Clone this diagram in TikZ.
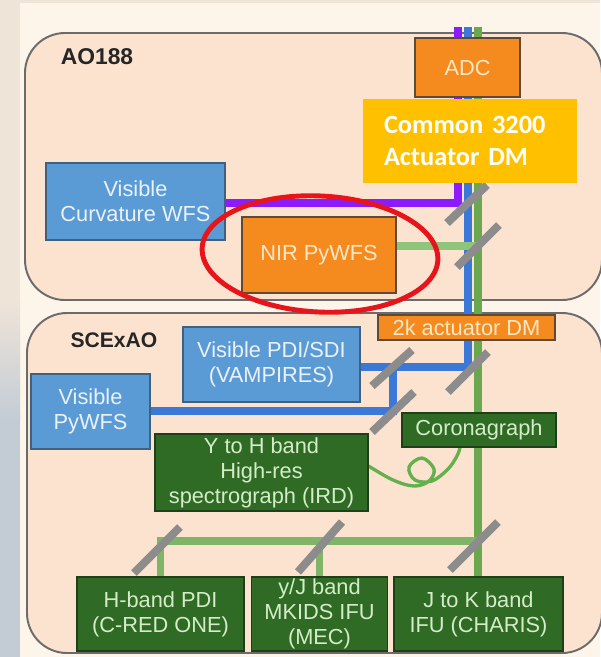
\documentclass[tikz,border=0pt]{standalone}
\usepackage{fontspec}
\setmainfont{Liberation Sans}
\newfontfamily\calibri{Carlito}[WordSpace = 0.6]
\usepackage{xcolor}
\usepackage{tikz}

\definecolor{bgcream}{HTML}{FDF5EA}
\definecolor{stripbeige}{HTML}{EFE4D8}
\definecolor{stripblue}{HTML}{C3CCD5}
\definecolor{panelfill}{HTML}{FCE3CF}
\definecolor{panelline}{HTML}{6B6B6B}
\definecolor{boxblue}{HTML}{5B9BD5}
\definecolor{blueline}{HTML}{40607F}
\definecolor{bluetext}{HTML}{EAF1F8}
\definecolor{boxorange}{HTML}{F58B1F}
\definecolor{orangeline}{HTML}{5E4A38}
\definecolor{orangetext}{HTML}{FDE7C6}
\definecolor{boxgreen}{HTML}{2F6B25}
\definecolor{greenline}{HTML}{1E3F18}
\definecolor{greentext}{HTML}{D5ECC8}
\definecolor{beampurple}{HTML}{8A1CFF}
\definecolor{beamblue}{HTML}{3B78D8}
\definecolor{beamgreen}{HTML}{6AA84F}
\definecolor{beamlight}{HTML}{8FC47B}
\definecolor{fibergreen}{HTML}{64B04E}
\definecolor{mirrorgray}{HTML}{8C8C8C}
\definecolor{ringred}{HTML}{E8141C}
\definecolor{dmyellow}{HTML}{FFC000}

\pgfdeclarelayer{base}
\pgfdeclarelayer{beams}
\pgfsetlayers{base,beams,main}

\tikzset{
  unit/.style = {rectangle, line width = 0.6pt, inner sep = 0pt, align = center,
    font = \fontsize{12.4}{14.2}\selectfont},
  bluebox/.style = {unit, draw = blueline, fill = boxblue, text = bluetext},
  orangebox/.style = {unit, draw = orangeline, fill = boxorange, text = orangetext},
  greenbox/.style = {unit, draw = greenline, fill = boxgreen, text = greentext},
  boxsize/.style 2 args = {minimum width = #1*0.02cm, minimum height = #2*0.02cm},
  panel/.style = {draw = panelline, fill = panelfill, line width = 1.1pt, rounded corners = 0.8cm},
  beam/.style = {line width = 4.5pt},
  mirror/.style = {draw = mirrorgray, line width = 4.6pt},
  fiber/.style = {draw = fibergreen, line width = 1.9pt},
  title/.style = {font = \fontsize{13}{15}\selectfont\bfseries, text = black!85}
}

\begin{document}
\begin{tikzpicture}[x = 0.02cm, y = -0.02cm]

    \useasboundingbox (0,0) rectangle (600,657);

    \begin{pgfonlayer}{base}
    \fill[bgcream] (0,0) rectangle (600,657);
    \fill[stripbeige] (0,0) rectangle (600,3);
    \fill[stripbeige] (0,0) rectangle (20,300);
    \shade[top color = stripbeige, bottom color = stripblue] (0,300) rectangle (20,420);
    \fill[stripblue] (0,420) rectangle (20,657);

    % Panels
    \draw[panel] (25,33) rectangle (602,300);
    \draw[panel] (27,313) rectangle (602,653);
    \end{pgfonlayer}

    \node[title] (ao) at (97,57) {AO188};
    \node[title, font = \fontsize{12}{14}\selectfont\bfseries] (scexao) at (114,340) {SCExAO};

    % Boxes
    \node[orangebox, boxsize = {105}{59}] (adc) at (467.5,67.5) {ADC};
    \node[bluebox, boxsize = {179}{77}] (curv) at (135.5,201.5) {Visible\\Curvature WFS};
    \node[orangebox, boxsize = {154}{76}] (nir) at (319,255) {NIR PyWFS};
    \node[orangebox, boxsize = {177}{25}] (dm2k) at (466.5,327.5) {2k actuator DM};
    \node[bluebox, boxsize = {177}{75}] (vamp) at (271.5,364.5) {Visible PDI/SDI\\(VAMPIRES)};
    \node[bluebox, boxsize = {119}{75}] (pywfs) at (90.5,411.5) {Visible\\PyWFS};
    \node[greenbox, boxsize = {154}{34}] (coro) at (479,430) {Coronagraph};
    \node[greenbox, boxsize = {213}{77}] (ird) at (261.5,472.5) {Y to H band\\High-res\\spectrograph (IRD)};
    \node[greenbox, boxsize = {167}{74}] (hpdi) at (160.5,614) {H-band PDI\\(C-RED ONE)};
    \node[greenbox, boxsize = {136}{74}] (mec) at (319.5,614) {y/J band\\MKIDS IFU\\(MEC)};
    \node[greenbox, boxsize = {169}{74}] (charis) at (478.5,614) {J to K band\\IFU (CHARIS)};

    % Beams
    \coordinate (ptop) at (458,27);
    \coordinate (btop) at (468,27);
    \coordinate (gtop) at (478,27);
    \coordinate (pturn) at (458,203);
    \coordinate (bturn) at (468,367);
    \coordinate (bsplit) at (393,367);
    \coordinate (bdown) at (393,411);
    \coordinate (gnir) at (478,246);
    \coordinate (glow) at (478,541);

    \begin{pgfonlayer}{beams}
    \draw[beam, beampurple] (ptop) -- (pturn) -- (curv.east |- pturn);
    \draw[beam, beamblue] (btop) -- (bturn) -- (vamp.east |- bturn);
    \draw[beam, beamblue] (bsplit) -- (bdown) -- (pywfs.east |- bdown);
    \draw[beam, beamgreen] (gtop) -- (gtop |- charis.north);
    \draw[beam, beamlight, line width = 4pt] (gnir) -- (nir.east |- gnir);
    \draw[beam, beamgreen!85!white, line width = 4pt] (glow) -- (hpdi.north |- glow) -- (hpdi.north);
    \draw[beam, beamgreen!85!white, line width = 4pt] (mec.north |- glow) -- (mec.north);

    % Fiber
    \coordinate (f0) at (ird.east |- 0,466);
    \coordinate (f1) at (coro.south -| 460,0);
    \draw[fiber] plot[smooth, tension = 0.6] coordinates {(f0) (393,480) (414,486) (429,481)
      (434,469) (422,458) (409,467) (415,480) (432,481) (448,469) (457,456) (f1)};

    % Mirrors
    \foreach \cx/\cy/\hx/\hy in {467/204/20/19, 478/246/21/21, 392/368/20/18,
      468/372/20/20, 393/412/21/20, 157/550/23/23, 320/547/22/25, 474/546/24/24}
      \draw[mirror] (\cx-\hx,\cy+\hy) -- (\cx+\hx,\cy-\hy);
    \end{pgfonlayer}

    % Highlight ring
    \draw[ringred, line width = 2.8pt, rotate around = {-3:(320,254)}]
      (320,254) ellipse [x radius = 118, y radius = 58];

    \node[fill = dmyellow, text = white, align = left, inner ysep = 0pt, inner xsep = 21*0.02cm,
      text width = 172*0.02cm, minimum height = 84*0.02cm,
      font = \calibri\fontsize{15}{18.2}\selectfont\bfseries] (common) at (470,141)
      {Common 3200\\Actuator DM};

\end{tikzpicture}
\end{document}
